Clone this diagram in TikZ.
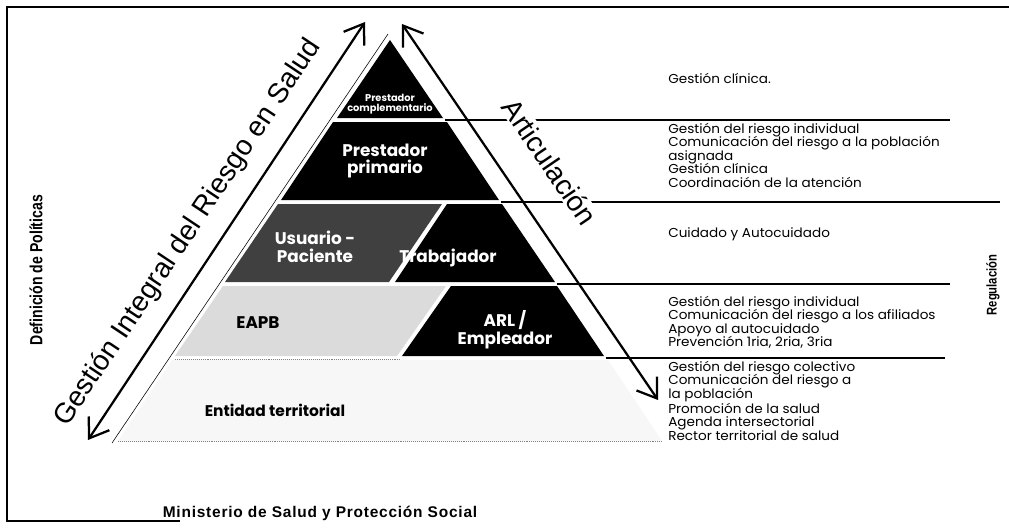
\documentclass[tikz,border=0pt]{standalone}
\usepackage{fontspec}
\setmainfont{Poppins}
\newfontfamily\taskfont[FakeStretch=1.05]{Poppins}
\newfontfamily\arialfont{Liberation Sans}
\newfontfamily\narrowfont[FakeStretch=0.8]{Liberation Sans}
\newfontfamily\minfont[LetterSpace=5]{Liberation Sans}
\usetikzlibrary{arrows.meta}

\begin{document}
\begin{tikzpicture}[x=0.025cm, y=-0.025cm,
        bigarrow/.style={line width=1.6pt, {Straight Barb[length=0.45cm,width=0.62cm]}-{Straight Barb[length=0.45cm,width=0.62cm]}},
        dark/.style={text=white, font=\bfseries\fontsize{12}{12.5}\selectfont, align=center, inner sep=0pt},
        light/.style={text=black, font=\bfseries\fontsize{12}{12.5}\selectfont, align=center, inner sep=0pt},
        tasks/.style={anchor=north west, align=left, inner sep=0pt, font={\taskfont\fontsize{9.2}{9.6}\selectfont\lineskiplimit=-20pt}},
        levelline/.style={line width=0.9pt}]
        \useasboundingbox (0,0) rectangle (1009,528);
        % marco
        \draw[line width=2pt] (1009,7) -- (7,7) -- (7,521) -- (180,521);

        % niveles de la piramide
        \fill[black] (390,40) -- (443,118) -- (337,118) -- cycle;
        \fill[black] (333,122) -- (447,122) -- (499,200) -- (281,200) -- cycle;
        \fill[fill={rgb:black,3;white,1}] (278,204) -- (442,204) -- (389,282) -- (225,282) -- cycle;
        \fill[black] (447,204) -- (502,204) -- (555,282) -- (395,282) -- cycle;
        \fill[fill={rgb:black,1;white,6}] (223,286) -- (446,286) -- (397,356) -- (175,356) -- cycle;
        \fill[black] (451,286) -- (557,286) -- (604,356) -- (402,356) -- cycle;
        \fill[fill={rgb:black,1;white,30}] (172,360) -- (608,360) -- (662,441) -- (118,441) -- cycle;
        \draw[gray, densely dotted] (175,359) -- (400,359);
        \draw[gray, densely dotted] (118,441) -- (662,441);
        \draw[thin] (388,34) -- (112,443);

        % lineas hacia la derecha
        \draw[levelline] (445,120) -- (950,120);
        \draw[levelline] (501,202) -- (1000,202);
        \draw[levelline] (557,284) -- (950,284);
        \draw[levelline] (606,358) -- (945,358);

        \node[dark, font=\bfseries\fontsize{7}{7.5}\selectfont] (compl) at (390,104) {Prestador\\complementario};
        \node[dark] (prim) at (385,161) {Prestador\\primario};
        \node[dark] (usu) at (315,247) {Usuario -\\Paciente};
        \node[dark] (trab) at (448,258) {Trabajador};
        \node[light] (eapb) at (258,323) {EAPB};
        \node[dark] (arl) at (505,330) {ARL /\\Empleador};
        \node[light, font=\bfseries\fontsize{11}{11}\selectfont] (ent) at (275,410) {Entidad territorial};

        % tareas de cada nivel
        \node[tasks] (t1) at (668,73) {Gestión clínica.};
        \node[tasks] (t2) at (668,123) {Gestión del riesgo individual\\Comunicación del riesgo a la población\\asignada\\Gestión clínica\\Coordinación de la atención};
        \node[tasks] (t3) at (668,227) {Cuidado y Autocuidado};
        \node[tasks] (t4) at (668,296) {Gestión del riesgo individual\\Comunicación del riesgo a los afiliados\\Apoyo al autocuidado\\Prevención 1ria, 2ria, 3ria};
        \node[tasks] (t5) at (668,361) {Gestión del riesgo colectivo\\Comunicación del riesgo a\\la población\\[1pt]Promoción de la salud\\Agenda intersectorial\\Rector territorial de salud};

        % flechas
        \coordinate (girs-lo) at (88,440);
        \coordinate (girs-hi) at (365,22);
        \coordinate (art-hi) at (402,24);
        \coordinate (art-lo) at (658,400);
        \node[rotate=56.3, font=\arialfont\fontsize{20}{20}\selectfont] (girs) at (188,233) {Gestión Integral del Riesgo en Salud};
        \node[rotate=-55.8, fill=white, inner sep=1pt, font=\arialfont\fontsize{20}{20}\selectfont] (art) at (550,162) {Articulación};
        \draw[bigarrow] (girs-lo) -- (girs-hi);
        \draw[bigarrow] (art-hi) -- (art-lo);

        \node[rotate=90, font=\narrowfont\bfseries\fontsize{12.5}{12.5}\selectfont] (def) at (36,270) {Definición de Políticas};
        \node[rotate=90, font=\narrowfont\bfseries\fontsize{10}{10}\selectfont] (reg) at (993,285) {Regulación};
        \node[font=\minfont\bfseries\fontsize{11}{11}\selectfont] (min) at (320,513) {Ministerio de Salud y Protección Social};
    \end{tikzpicture}
\end{document}
